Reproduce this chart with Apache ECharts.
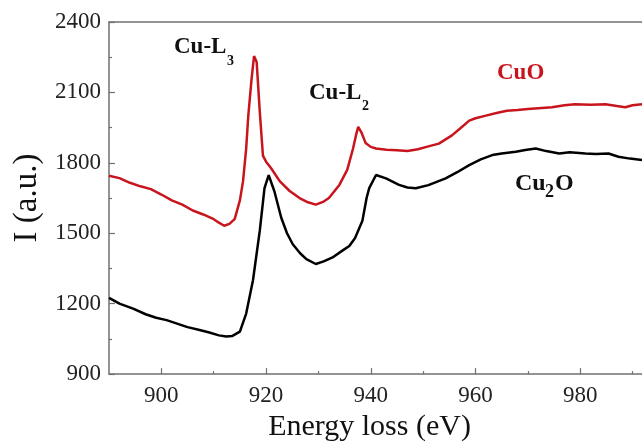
<!DOCTYPE html>
<html>
<head>
<meta charset="utf-8">
<script src="https://cdn.jsdelivr.net/npm/echarts@6/dist/echarts.min.js"></script>
<style>
  html, body { margin: 0; padding: 0; background: #fff; }
  #chart { width: 642px; height: 447px; }
</style>
</head>
<body>
<div id="chart"></div>
<script>
// EELS spectra, Cu L-edge: CuO (red) vs Cu2O (black)
const cuoEnergy = [890, 892, 894, 896, 898, 900, 902, 904, 906, 908, 910, 911, 912, 913, 914, 915,
    915.6, 916.2, 916.6, 917.2, 917.7, 918.2, 918.8, 919.4, 920, 921, 922.6, 924.5, 926.4, 928, 929.5,
    931, 932, 934, 935.5, 936.6, 937.2, 937.6, 938.2, 939, 940, 941, 943, 945, 947, 949, 951, 953,
    955.5, 957, 958.8, 960, 962, 964, 966, 968, 970, 972, 974.6, 977, 979, 982, 984.8, 987, 988.6,
    990, 991.8];
const cuoIntensity = [1745, 1735, 1715, 1700, 1688, 1665, 1640, 1622, 1597, 1580, 1560, 1545, 1532,
    1540, 1560, 1640, 1722, 1861, 2000, 2150, 2255, 2230, 2017, 1831, 1805, 1776, 1722, 1680, 1650,
    1632, 1622, 1635, 1650, 1706, 1770, 1860, 1920, 1953, 1930, 1885, 1868, 1861, 1856, 1854, 1850,
    1858, 1870, 1882, 1917, 1945, 1980, 1990, 2001, 2012, 2022, 2025, 2029, 2033, 2037, 2045, 2050,
    2048, 2050, 2042, 2037, 2045, 2050];

const cu2oEnergy = [890, 892, 894.6, 897, 899, 901, 903, 905, 907.3, 909, 911, 912.4, 913.5, 915,
    916.2, 917.5, 918.8, 919.7, 920.5, 921.6, 922.9, 924, 925.1, 926.5, 927.7, 929.5, 931, 932.7,
    934.5, 935.9, 937, 938.4, 939.2, 939.7, 941, 942.9, 945.4, 947, 948.6, 951, 954.3, 956.5, 958.8,
    961, 963.2, 965, 967.7, 969.5, 971.5, 973.5, 976, 978, 981, 983, 985.4, 987.3, 989.5, 991.8];
const cu2oIntensity = [1225, 1200, 1179, 1155, 1140, 1130, 1115, 1100, 1088, 1078, 1065, 1060, 1062,
    1081, 1158, 1300, 1511, 1692, 1748, 1678, 1566, 1500, 1453, 1415, 1390, 1369, 1380, 1397, 1425,
    1446, 1480, 1553, 1650, 1692, 1748, 1734, 1706, 1695, 1692, 1705, 1734, 1760, 1790, 1815, 1833,
    1840, 1847, 1855, 1861, 1850, 1840, 1845, 1840, 1838, 1840, 1826, 1818, 1812];

const xMajorTicks = [900, 920, 940, 960, 980];
const xMinorTicks = [910, 930, 950, 970, 990];

const RED = '#c8151d';
const AXIS_GRAY = '#707070';
const SERIF = 'Liberation Serif';

function pairs(xs, ys) {
    return xs.map((x, i) => [x, ys[i]]);
}

const chart = echarts.init(document.getElementById('chart'), null, { renderer: 'canvas' });

const option = {
    animation: false,
    grid: { left: 109, top: 22, right: 0, bottom: 69 },
    xAxis: [
        {
            type: 'value',
            min: 890,
            max: 991.8,
            name: 'Energy loss (eV)',
            nameLocation: 'middle',
            nameGap: 36,
            nameTextStyle: { fontFamily: SERIF, fontSize: 30, color: '#111', padding: [0, 12, 0, 0] },
            axisLine: { lineStyle: { color: AXIS_GRAY, width: 1.5 } },
            axisTick: { inside: true, length: 6, lineStyle: { color: AXIS_GRAY, width: 1.2 }, customValues: xMajorTicks },
            axisLabel: { customValues: xMajorTicks, margin: 10, fontFamily: SERIF, fontSize: 23, color: '#222' },
            splitLine: { show: false }
        },
        {
            // minor ticks on the bottom axis
            type: 'value',
            position: 'bottom',
            min: 890,
            max: 991.8,
            axisLine: { show: false },
            axisTick: { inside: true, length: 3, lineStyle: { color: AXIS_GRAY, width: 1.2 }, customValues: xMinorTicks },
            axisLabel: { show: false },
            splitLine: { show: false }
        },
        {
            // top frame line
            type: 'value',
            position: 'top',
            min: 890,
            max: 991.8,
            axisLine: { show: true, lineStyle: { color: AXIS_GRAY, width: 1.5 } },
            axisTick: { show: false },
            axisLabel: { show: false },
            splitLine: { show: false }
        }
    ],
    yAxis: {
        type: 'value',
        min: 900,
        max: 2400,
        interval: 300,
        name: 'I (a.u.)',
        nameLocation: 'middle',
        nameGap: 64,
        nameTextStyle: { fontFamily: SERIF, fontSize: 33, color: '#111' },
        axisLine: { show: true, lineStyle: { color: AXIS_GRAY, width: 1.5 } },
        axisTick: { inside: true, length: 6, lineStyle: { color: AXIS_GRAY, width: 1.2 } },
        minorTick: { show: true, splitNumber: 2, length: 3, lineStyle: { color: AXIS_GRAY, width: 1.2 } },
        axisLabel: {
            margin: 8, fontFamily: SERIF, fontSize: 23, color: '#222',
            formatter: (v) => String(v)
        },
        splitLine: { show: false }
    },
    series: [
        {
            name: 'CuO',
            type: 'line',
            data: pairs(cuoEnergy, cuoIntensity),
            showSymbol: false,
            lineStyle: { color: RED, width: 2.5 },
            itemStyle: { color: RED },
            z: 3
        },
        {
            name: 'Cu2O',
            type: 'line',
            data: pairs(cu2oEnergy, cu2oIntensity),
            showSymbol: false,
            lineStyle: { color: '#000', width: 2.5 },
            itemStyle: { color: '#000' },
            z: 2
        }
    ],
    graphic: [
        { type: 'text', left: 174, top: 36, style: { text: 'Cu-L', font: 'bold 23px ' + SERIF, fill: '#111' } },
        { type: 'text', left: 227, top: 54, style: { text: '3', font: 'bold 14px ' + SERIF, fill: '#111' } },
        { type: 'text', left: 309, top: 82, style: { text: 'Cu-L', font: 'bold 23px ' + SERIF, fill: '#111' } },
        { type: 'text', left: 362, top: 99, style: { text: '2', font: 'bold 14px ' + SERIF, fill: '#111' } },
        { type: 'text', left: 497, top: 62, style: { text: 'CuO', font: 'bold 23px ' + SERIF, fill: RED } },
        { type: 'text', left: 515, top: 172, style: { text: 'Cu', font: 'bold 24px ' + SERIF, fill: '#111' } },
        { type: 'text', left: 545, top: 183, style: { text: '2', font: 'bold 18px ' + SERIF, fill: '#111' } },
        { type: 'text', left: 555, top: 172, style: { text: 'O', font: 'bold 24px ' + SERIF, fill: '#111' } }
    ]
};

chart.setOption(option);
</script>
</body>
</html>
